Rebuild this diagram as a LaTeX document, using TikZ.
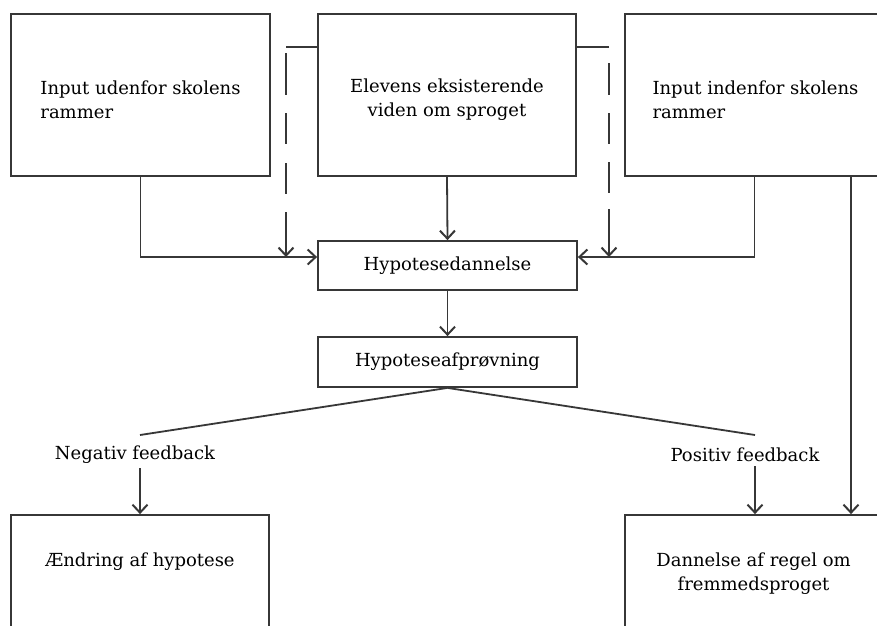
\documentclass[tikz,border=0pt]{standalone}
\usepackage{fontspec}
\setmainfont{DejaVu Serif}
\usetikzlibrary{arrows.meta,calc}
\definecolor{lc}{RGB}{55,55,55}
\begin{document}
\begin{tikzpicture}[x=1pt,y=-1pt,
  box/.style={draw=lc, line width=1.8pt, inner sep=0pt},
  txt/.style={inner sep=0pt, font=\fontsize{18}{24}\selectfont, text=black},
  lbl/.style={inner xsep=0pt, inner ysep=4pt, font=\fontsize{18}{24}\selectfont, text=black},
  ln/.style={draw=lc, line width=1.8pt},
  arr/.style={ln, -{Straight Barb[length=8pt,width=15pt,line width=2pt]}}]
\clip (0,0) rectangle (877,625);
\fill[white] (0,0) rectangle (877,625);
% top boxes
\node[box, minimum width=259pt, minimum height=162pt] (inu) at (140.5,95) {};
\node[box, minimum width=258pt, minimum height=162pt] (mid) at (447,95) {};
\node[box, minimum width=259pt, minimum height=162pt] (inr) at (754.5,95) {};
\node[txt, align=left] (t1) at (140.5,100) {Input udenfor skolens\\rammer};
\node[txt, align=center] (t2) at (447,100) {Elevens eksisterende\\viden om sproget};
\node[txt, align=left] (t3) at (755.5,100) {Input indenfor skolens\\rammer};
% middle boxes
\node[box, minimum width=259pt, minimum height=49pt] (hyp) at (447.5,265.5) {};
\node[txt] (t4) at (447.5,265.5) {Hypotesedannelse};
\node[box, minimum width=259pt, minimum height=50pt] (afp) at (447.5,362) {};
\node[txt] (t5) at (447.5,362) {Hypoteseafprøvning};
% bottom boxes
\node[box, minimum width=258pt, minimum height=162pt] (aend) at (140,596) {};
\node[txt] (t6) at (140,562) {Ændring af hypotese};
\node[box, minimum width=259pt, minimum height=162pt] (dan) at (754.5,596) {};
\node[txt, align=center] (t7) at (753.5,574) {Dannelse af regel om\\fremmedsproget};
% feedback labels
\node[lbl] (neg) at (135,455) {Negativ feedback};
\node[lbl] (pos) at (745,455) {Positiv feedback};
% coordinates
\coordinate (tl) at (286,47);
\coordinate (tr) at (609,47);
\coordinate (hl) at ([yshift=8.5pt]hyp.west);
\coordinate (hr) at ([yshift=8.5pt]hyp.east);
\coordinate (nl) at (140,435);
\coordinate (pl) at (755,435);
\coordinate (rx) at (851,0);
% connectors
\draw[arr] (mid.south) -- (hyp.north);
\draw[arr] (inu.south) |- (hl);
\draw[arr] (inr.south) |- (hr);
\draw[ln] (tl) -- (tl -| mid.west);
\draw[ln] (tr) -- (tr -| mid.east);
\draw[arr, dash pattern=on 0pt off 6pt on 42pt off 18pt on 31pt off 19pt on 31pt off 18pt on 100pt] (tl) -- (tl |- hl);
\draw[arr, dash pattern=on 0pt off 16pt on 32pt off 18pt on 31pt off 18pt on 31pt off 16pt on 100pt] (tr) -- (tr |- hr);
\draw[arr] (hyp.south) -- (afp.north);
\draw[ln] (afp.south) -- (nl);
\draw[ln] (afp.south) -- (pl);
\draw[arr] (nl |- neg.south) -- (nl |- aend.north);
\draw[arr] (pl |- pos.south) -- (pl |- dan.north);
\draw[arr] (rx |- inr.south) -- (rx |- dan.north);
\end{tikzpicture}
\end{document}
